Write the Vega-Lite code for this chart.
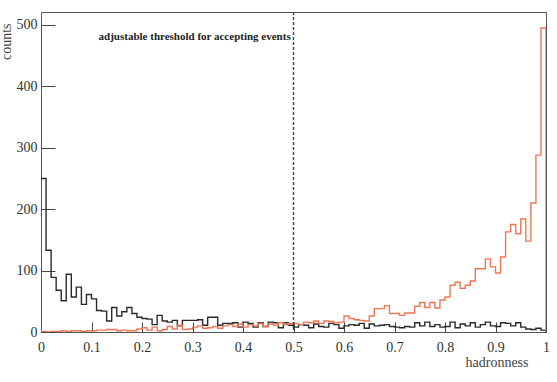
{
  "$schema": "https://vega.github.io/schema/vega-lite/v6.json",
  "autosize": "none",
  "width": 505,
  "height": 320,
  "padding": {"left": 41, "top": 12, "right": 11, "bottom": 50},
  "background": "white",
  "config": {
    "view": {"stroke": "#555", "strokeWidth": 1},
    "axis": {"labelFont": "Liberation Serif", "titleFont": "Liberation Serif", "labelColor": "#333", "titleColor": "#444", "domainColor": "#555", "tickColor": "#444", "grid": false}
  },
  "datasets": {
    "hist": [
    {"x":0.00,"h":250,"g":1},{"x":0.01,"h":133,"g":0},{"x":0.02,"h":89,"g":1},{"x":0.03,"h":68,"g":1},{"x":0.04,"h":51,"g":2},
    {"x":0.05,"h":94,"g":1},{"x":0.06,"h":57,"g":2},{"x":0.07,"h":73,"g":2},{"x":0.08,"h":45,"g":1},{"x":0.09,"h":61,"g":2},
    {"x":0.10,"h":54,"g":2},{"x":0.11,"h":35,"g":3},{"x":0.12,"h":34,"g":3},{"x":0.13,"h":18,"g":4},{"x":0.14,"h":40,"g":4},
    {"x":0.15,"h":26,"g":2},{"x":0.16,"h":33,"g":3},{"x":0.17,"h":40,"g":2},{"x":0.18,"h":30,"g":2},{"x":0.19,"h":24,"g":5},
    {"x":0.20,"h":22,"g":7},{"x":0.21,"h":21,"g":3},{"x":0.22,"h":12,"g":8},{"x":0.23,"h":27,"g":2},{"x":0.24,"h":18,"g":4},
    {"x":0.25,"h":16,"g":9},{"x":0.26,"h":19,"g":5},{"x":0.27,"h":10,"g":11},{"x":0.28,"h":19,"g":4},{"x":0.29,"h":19,"g":5},
    {"x":0.30,"h":19,"g":8},{"x":0.31,"h":20,"g":10},{"x":0.32,"h":11,"g":6},{"x":0.33,"h":24,"g":7},{"x":0.34,"h":24,"g":9},
    {"x":0.35,"h":11,"g":6},{"x":0.36,"h":14,"g":10},{"x":0.37,"h":14,"g":12},{"x":0.38,"h":15,"g":9},{"x":0.39,"h":8,"g":13},
    {"x":0.40,"h":16,"g":8},{"x":0.41,"h":14,"g":12},{"x":0.42,"h":8,"g":10},{"x":0.43,"h":15,"g":14},{"x":0.44,"h":9,"g":9},
    {"x":0.45,"h":16,"g":13},{"x":0.46,"h":15,"g":11},{"x":0.47,"h":7,"g":15},{"x":0.48,"h":15,"g":12},{"x":0.49,"h":11,"g":14},
    {"x":0.50,"h":8,"g":14},{"x":0.51,"h":12,"g":12},{"x":0.52,"h":11,"g":16},{"x":0.53,"h":7,"g":15},{"x":0.54,"h":13,"g":18},
    {"x":0.55,"h":9,"g":14},{"x":0.56,"h":8,"g":18},{"x":0.57,"h":14,"g":17},{"x":0.58,"h":12,"g":15},{"x":0.59,"h":6,"g":16},
    {"x":0.60,"h":10,"g":26},{"x":0.61,"h":12,"g":22},{"x":0.62,"h":11,"g":20},{"x":0.63,"h":14,"g":19},{"x":0.64,"h":6,"g":18},
    {"x":0.65,"h":13,"g":26},{"x":0.66,"h":10,"g":38},{"x":0.67,"h":11,"g":38},{"x":0.68,"h":12,"g":43},{"x":0.69,"h":9,"g":30},
    {"x":0.70,"h":8,"g":30},{"x":0.71,"h":7,"g":27},{"x":0.72,"h":9,"g":31},{"x":0.73,"h":8,"g":31},{"x":0.74,"h":15,"g":42},
    {"x":0.75,"h":10,"g":48},{"x":0.76,"h":16,"g":40},{"x":0.77,"h":9,"g":48},{"x":0.78,"h":12,"g":39},{"x":0.79,"h":8,"g":52},
    {"x":0.80,"h":9,"g":57},{"x":0.81,"h":16,"g":76},{"x":0.82,"h":7,"g":81},{"x":0.83,"h":13,"g":71},{"x":0.84,"h":10,"g":76},
    {"x":0.85,"h":15,"g":83},{"x":0.86,"h":8,"g":103},{"x":0.87,"h":12,"g":103},{"x":0.88,"h":16,"g":119},{"x":0.89,"h":10,"g":106},
    {"x":0.90,"h":9,"g":96},{"x":0.91,"h":15,"g":122},{"x":0.92,"h":14,"g":163},{"x":0.93,"h":10,"g":175},{"x":0.94,"h":15,"g":160},
    {"x":0.95,"h":8,"g":184},{"x":0.96,"h":5,"g":148},{"x":0.97,"h":4,"g":210},{"x":0.98,"h":6,"g":288},{"x":0.99,"h":3,"g":495},
    {"x":1.00,"h":0,"g":0}
    ],
    "single": [{"note": "adjustable threshold for accepting events"}]
  },
  "layer": [
    {
      "data": {"name": "hist"},
      "transform": [{"fold": ["h", "g"], "as": ["s", "c"]}],
      "mark": {"type": "line", "interpolate": "step-after", "strokeWidth": 1.4, "clip": true},
      "encoding": {
        "x": {"field": "x", "type": "quantitative",
              "scale": {"domain": [0, 1], "nice": false, "zero": false},
              "axis": {
                "values": [0,0.05,0.1,0.15,0.2,0.25,0.3,0.35,0.4,0.45,0.5,0.55,0.6,0.65,0.7,0.75,0.8,0.85,0.9,0.95,1],
                "labelExpr": "abs(datum.value*10 - round(datum.value*10)) < 0.001 ? format(datum.value, '~g') : ''",
                "tickSize": {"condition": {"test": "abs(datum.value*10 - round(datum.value*10)) < 0.001", "value": -10}, "value": -5},
                "labelFontSize": 14, "labelPadding": 18, "labelFlush": false, "labelOverlap": false,
                "title": "hadronness", "titleFontSize": 14, "titleFontWeight": "normal",
                "titleAnchor": null, "titleAlign": "right", "titleBaseline": "alphabetic", "titleX": 487, "titleY": 34
              }},
        "y": {"field": "c", "type": "quantitative",
              "scale": {"domain": [0, 521], "nice": false},
              "axis": {
                "values": [0,50,100,150,200,250,300,350,400,450,500],
                "labelExpr": "datum.value % 100 === 0 ? datum.label : ''",
                "tickSize": {"condition": {"test": "datum.value % 100 === 0", "value": -14}, "value": -7},
                "labelFontSize": 14, "labelPadding": 18, "labelFlush": false, "labelOverlap": false,
                "title": "counts", "titleFontSize": 14, "titleFontWeight": "normal",
                "titleAngle": -90, "titleAnchor": null, "titleAlign": "right", "titleBaseline": "alphabetic", "titleX": -31, "titleY": 11
              }},
        "color": {"field": "s", "type": "nominal", "scale": {"domain": ["h", "g"], "range": ["#2a2a2a", "#f07552"]}, "legend": null}
      }
    },
    {
      "data": {"name": "single"},
      "mark": {"type": "rule", "color": "#444", "strokeDash": [3, 2], "strokeWidth": 1.4},
      "encoding": {"x": {"datum": 0.5, "type": "quantitative"}}
    },
    {
      "data": {"name": "single"},
      "mark": {"type": "text", "font": "Liberation Serif", "fontWeight": "bold", "fontSize": 11, "align": "left", "baseline": "middle", "color": "#222"},
      "encoding": {
        "x": {"datum": 0.114, "type": "quantitative"},
        "y": {"datum": 480, "type": "quantitative"},
        "text": {"field": "note"}
      }
    }
  ]
}
